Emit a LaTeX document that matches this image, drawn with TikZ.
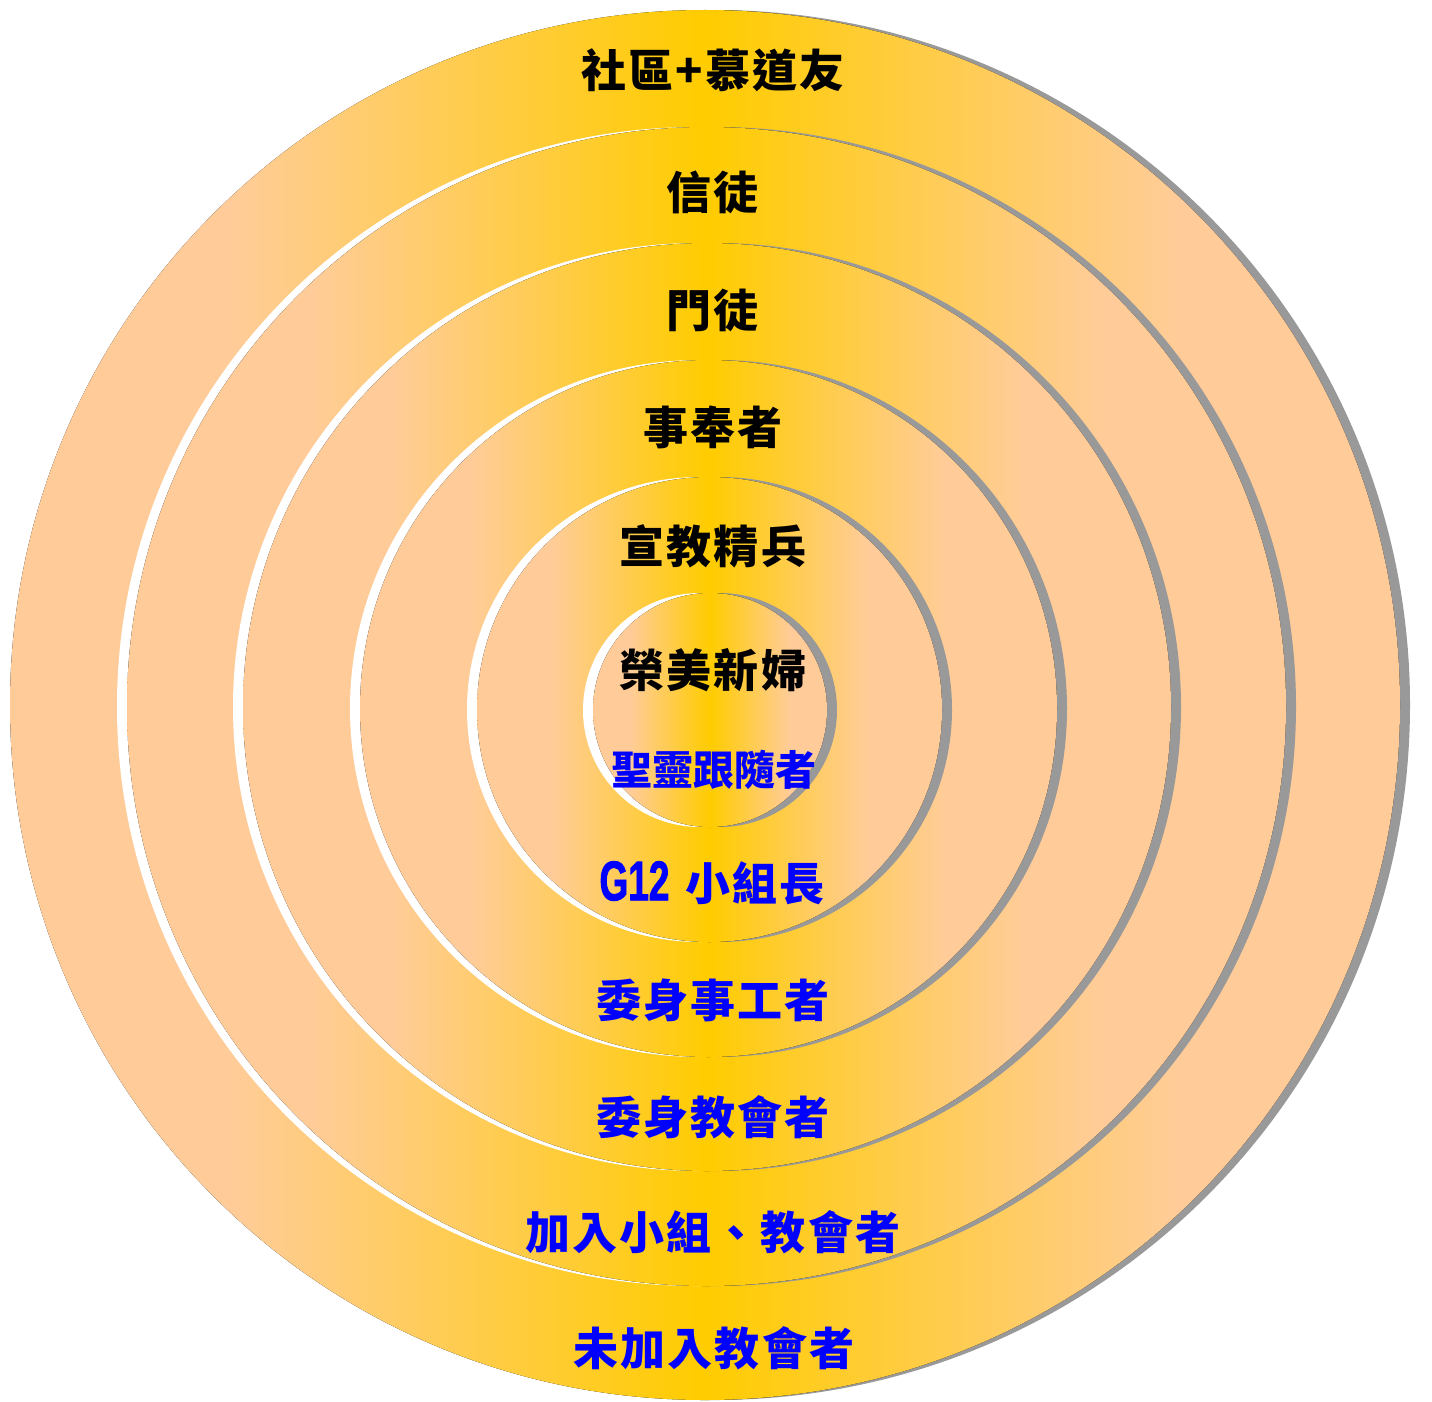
\documentclass[tikz,border=0pt]{standalone}
\usepackage{fontspec}
\newfontfamily\cjk[LetterSpace=4.5]{Noto Sans CJK TC}
\newfontfamily\cjktight{Noto Sans CJK TC}
\newfontfamily\narrowsans[FakeStretch=0.66, BoldFeatures={FakeBold=1.5}]{Liberation Sans}
\definecolor{peach}{HTML}{FFCC99}
\definecolor{gold}{HTML}{FFCC00}
\definecolor{rim}{HTML}{999999}
\pgfdeclarehorizontalshading{goldband}{100bp}{color(0bp)=(peach); color(33bp)=(peach); color(50bp)=(gold); color(67bp)=(peach); color(100bp)=(peach)}
\tikzset{
  shadowdisc/.style={fill=rim},
  litdisc/.style={fill=white},
  banddisc/.style={shading=goldband},
  upper/.style={font=\cjk\bfseries\fontsize{45}{54}\selectfont, text=black, inner sep=0pt},
  lower/.style={upper, text=blue},
}

\begin{document}
\begin{tikzpicture}[x=1pt, y=-1pt]
        \useasboundingbox (0,0) rectangle (1432,1402);
        \fill[white] (0,0) rectangle (1432,1402);
        % rings, outer to inner
        \fill[shadowdisc] (715,705) circle[radius=695pt];
        \fill[litdisc] (695,705) circle[radius=695pt];
        \fill[banddisc] (705,705) circle[radius=695pt];
        \fill[shadowdisc] (716.5,706.5) circle[radius=579.5pt];
        \fill[litdisc] (696.5,706.5) circle[radius=579.5pt];
        \fill[banddisc] (706.5,706.5) circle[radius=579.5pt];
        \fill[shadowdisc] (717,707) circle[radius=464pt];
        \fill[litdisc] (697,707) circle[radius=464pt];
        \fill[banddisc] (707,707) circle[radius=464pt];
        \fill[shadowdisc] (718.5,708.5) circle[radius=348.5pt];
        \fill[litdisc] (698.5,708.5) circle[radius=348.5pt];
        \fill[banddisc] (708.5,708.5) circle[radius=348.5pt];
        \fill[shadowdisc] (719.5,709.5) circle[radius=232.5pt];
        \fill[litdisc] (699.5,709.5) circle[radius=232.5pt];
        \fill[banddisc] (709.5,709.5) circle[radius=232.5pt];
        \fill[shadowdisc] (720,710) circle[radius=117pt];
        \fill[litdisc] (700,710) circle[radius=117pt];
        \fill[banddisc] (710,710) circle[radius=117pt];
        % labels
        \node[upper] (community) at (713,70) {社區+慕道友};
        \node[upper] (believer) at (713,192) {信徒};
        \node[upper] (disciple) at (713,310) {門徒};
        \node[upper] (servant) at (713,427) {事奉者};
        \node[upper] (missionary) at (713,546) {宣教精兵};
        \node[upper] (bride) at (713,670) {榮美新婦};
        \node[lower, font=\cjktight\bfseries\fontsize{41}{50}\selectfont] (spirit) at (714,770) {聖靈跟隨者};
        \node[lower] (leader) at (712,883) {{\narrowsans\bfseries\fontsize{56}{60}\selectfont G12}\hspace{16pt}小組長};
        \node[lower] (ministry) at (713,1000) {委身事工者};
        \node[lower] (church) at (713,1117) {委身教會者};
        \node[lower] (joined) at (713,1232) {加入小組、教會者};
        \node[lower] (seeker) at (714,1348) {未加入教會者};
    \end{tikzpicture}
\end{document}
